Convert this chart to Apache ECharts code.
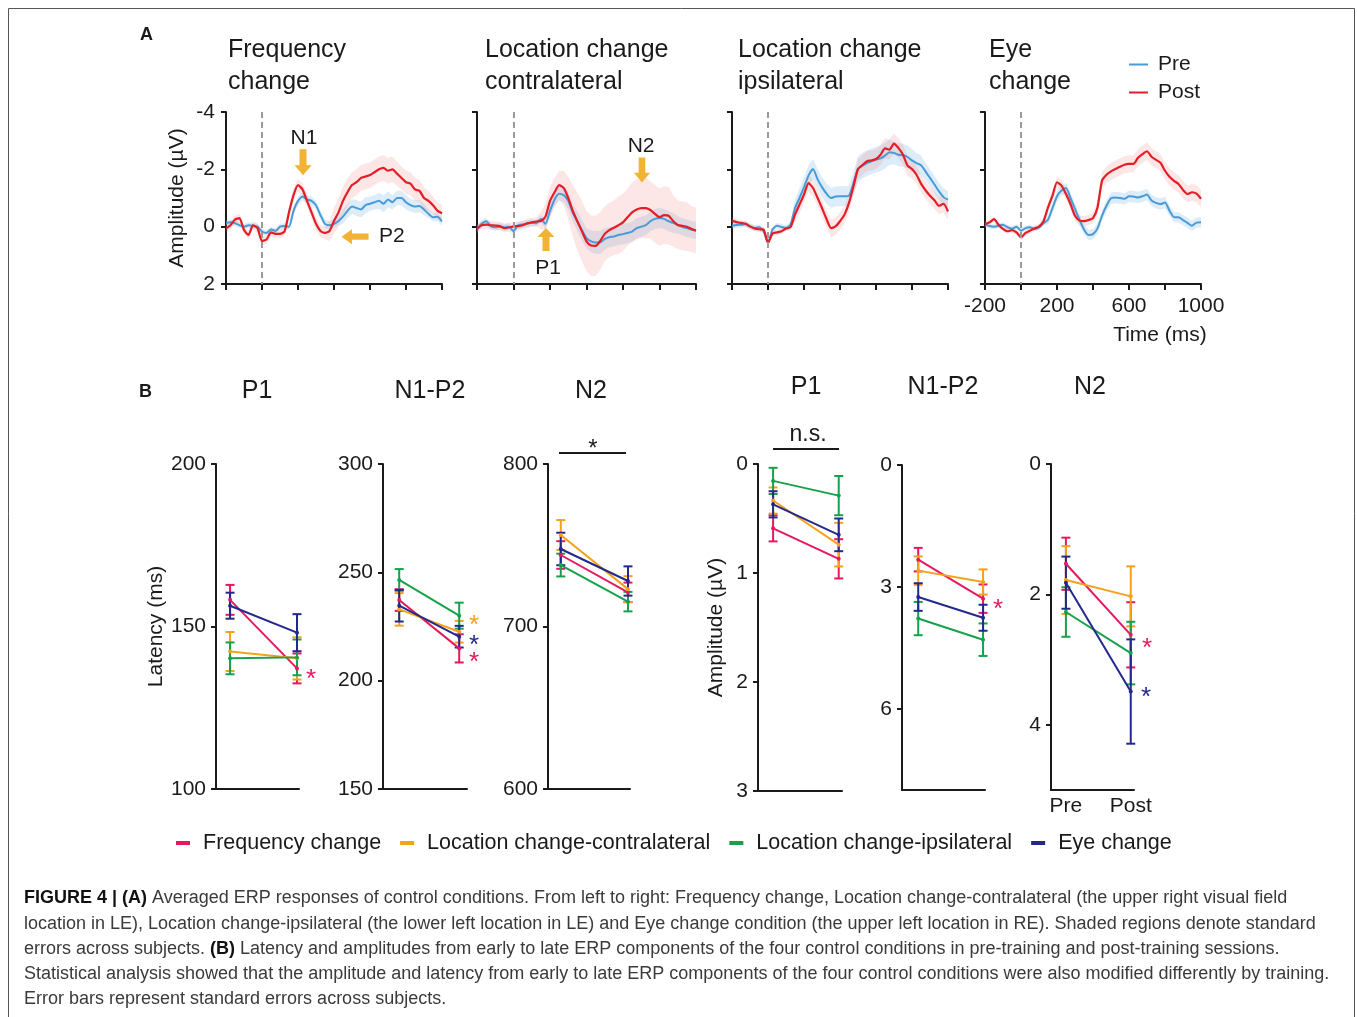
<!DOCTYPE html>
<html>
<head>
<meta charset="utf-8">
<script src="https://cdn.jsdelivr.net/npm/echarts@6/dist/echarts.min.js"></script>
<style>
html, body { margin: 0; padding: 0; background: #fff; }
#main { width: 1357px; height: 1017px; }
</style>
</head>
<body>
<div id="main"></div>
<script>
// ---------- panel A: averaged ERP (uV, negative up) ----------
const times = [-200, -175, -150, -125, -100, -75, -50, -25, 0, 25, 50, 75, 100, 125, 150, 175, 200, 225, 250, 275, 300, 325, 350, 375, 400, 425, 450, 475, 500, 525, 550, 575, 600, 625, 650, 675, 700, 725, 750, 775, 800, 825, 850, 875, 900, 925, 950, 975, 1000]
const timeTicks = [-200, 0, 200, 400, 600, 800, 1000]
const timeTickLabels = [-200, 200, 600, 1000]
const ampTicksA = [-4, -2, 0, 2]

const freqPre = [-0.14, -0.15, -0.12, -0.05, 0.0, -0.05, -0.03, 0.0, 0.17, 0.22, 0.1, 0.15, 0.0, -0.02, 0.0, -0.55, -0.9, -1.05, -0.95, -0.9, -0.75, -0.4, -0.1, -0.05, -0.1, -0.2, -0.35, -0.55, -0.7, -0.65, -0.6, -0.75, -0.8, -0.85, -0.9, -0.8, -0.95, -0.85, -1.0, -1.0, -0.85, -0.75, -0.7, -0.72, -0.6, -0.45, -0.33, -0.35, -0.18]
const freqPost = [0.06, -0.05, -0.25, -0.3, 0.12, 0.29, -0.05, 0.05, 0.5, 0.45, 0.2, 0.25, 0.25, 0.17, -0.5, -1.1, -1.45, -1.3, -0.9, -0.5, -0.1, 0.15, 0.22, 0.15, -0.2, -0.5, -0.9, -1.2, -1.45, -1.55, -1.7, -1.75, -1.8, -1.9, -2.0, -2.05, -1.95, -2.0, -1.85, -1.7, -1.55, -1.5, -1.3, -1.25, -1.0, -0.9, -0.75, -0.55, -0.47]
const freqPreSe = [0.1, 0.1, 0.1, 0.1, 0.1, 0.1, 0.1, 0.1, 0.1, 0.1, 0.1, 0.1, 0.1, 0.1, 0.1, 0.15, 0.15, 0.15, 0.15, 0.15, 0.15, 0.15, 0.15, 0.15, 0.15, 0.15, 0.25, 0.25, 0.25, 0.28, 0.28, 0.28, 0.25, 0.25, 0.28, 0.3, 0.28, 0.25, 0.25, 0.25, 0.25, 0.22, 0.22, 0.22, 0.2, 0.15, 0.15, 0.15, 0.15]
const freqPostSe = [0.15, 0.15, 0.15, 0.15, 0.15, 0.15, 0.15, 0.15, 0.15, 0.15, 0.15, 0.15, 0.15, 0.15, 0.22, 0.22, 0.22, 0.22, 0.22, 0.22, 0.22, 0.22, 0.22, 0.35, 0.45, 0.5, 0.5, 0.5, 0.45, 0.45, 0.45, 0.45, 0.45, 0.45, 0.45, 0.45, 0.45, 0.45, 0.42, 0.4, 0.4, 0.4, 0.4, 0.38, 0.36, 0.35, 0.3, 0.3, 0.3]

const contraPre = [0.08, -0.1, -0.19, -0.02, 0.02, 0.0, 0.03, 0.0, 0.16, -0.05, -0.08, -0.1, -0.14, -0.12, -0.27, -0.1, -0.55, -0.95, -1.15, -1.1, -0.9, -0.48, -0.19, 0.13, 0.4, 0.51, 0.55, 0.55, 0.43, 0.37, 0.34, 0.29, 0.26, 0.22, 0.17, 0.05, 0.0, -0.05, -0.19, -0.27, -0.3, -0.27, -0.19, -0.13, -0.06, 0.01, 0.05, 0.1, 0.13]
const contraPost = [0.08, -0.05, -0.07, -0.05, -0.04, -0.02, 0.05, 0.03, -0.01, -0.02, -0.05, -0.12, -0.15, -0.18, -0.2, -0.35, -0.9, -1.2, -1.45, -1.35, -1.0, -0.55, -0.18, 0.16, 0.51, 0.66, 0.67, 0.5, 0.25, 0.12, 0.04, -0.05, -0.15, -0.33, -0.5, -0.6, -0.65, -0.65, -0.58, -0.45, -0.33, -0.4, -0.38, -0.2, -0.06, -0.03, 0.0, 0.08, 0.14]
const contraPreSe = [0.12, 0.12, 0.12, 0.12, 0.12, 0.12, 0.12, 0.12, 0.12, 0.12, 0.12, 0.12, 0.12, 0.12, 0.12, 0.2, 0.25, 0.25, 0.25, 0.25, 0.3, 0.3, 0.35, 0.35, 0.35, 0.38, 0.4, 0.4, 0.38, 0.35, 0.35, 0.35, 0.35, 0.35, 0.35, 0.35, 0.35, 0.35, 0.35, 0.35, 0.35, 0.35, 0.35, 0.35, 0.3, 0.3, 0.3, 0.3, 0.3]
const contraPostSe = [0.15, 0.15, 0.15, 0.15, 0.15, 0.15, 0.15, 0.15, 0.15, 0.15, 0.15, 0.15, 0.15, 0.15, 0.3, 0.45, 0.5, 0.5, 0.5, 0.6, 0.75, 0.9, 1.0, 1.05, 1.05, 1.05, 1.05, 1.0, 0.95, 0.95, 0.95, 1.0, 1.0, 1.0, 1.05, 1.05, 1.05, 1.05, 1.0, 1.0, 1.0, 1.0, 1.0, 0.9, 0.85, 0.85, 0.85, 0.8, 0.8]

const ipsiPre = [-0.03, -0.06, -0.07, -0.09, -0.01, 0.05, 0.02, 0.15, 0.57, 0.1, -0.03, 0.01, 0.05, -0.07, -0.65, -1.0, -1.38, -1.78, -2.01, -1.66, -1.38, -1.15, -1.0, -1.05, -1.06, -1.06, -1.08, -1.52, -2.01, -2.13, -2.22, -2.28, -2.34, -2.38, -2.48, -2.6, -2.57, -2.51, -2.49, -2.43, -2.31, -2.22, -2.14, -1.93, -1.7, -1.47, -1.23, -1.03, -0.94]
const ipsiPost = [-0.21, -0.16, -0.13, -0.1, -0.01, 0.06, 0.09, 0.1, 0.57, 0.24, 0.2, 0.16, 0.06, 0.02, -0.42, -0.77, -1.12, -1.52, -1.35, -1.01, -0.65, -0.27, 0.05, -0.01, -0.19, -0.42, -0.83, -1.41, -2.01, -2.15, -2.28, -2.31, -2.36, -2.51, -2.73, -2.69, -2.9, -2.74, -2.51, -2.13, -2.01, -1.81, -1.5, -1.27, -1.08, -0.92, -0.73, -0.8, -0.53]
const ipsiPreSe = [0.1, 0.1, 0.1, 0.1, 0.1, 0.1, 0.1, 0.1, 0.1, 0.1, 0.1, 0.1, 0.1, 0.1, 0.3, 0.35, 0.35, 0.35, 0.35, 0.35, 0.35, 0.35, 0.35, 0.35, 0.35, 0.35, 0.35, 0.4, 0.45, 0.45, 0.45, 0.45, 0.45, 0.45, 0.45, 0.45, 0.4, 0.4, 0.4, 0.4, 0.4, 0.35, 0.35, 0.3, 0.3, 0.3, 0.3, 0.3, 0.3]
const ipsiPostSe = [0.1, 0.1, 0.1, 0.1, 0.1, 0.1, 0.1, 0.1, 0.1, 0.1, 0.1, 0.1, 0.1, 0.1, 0.25, 0.3, 0.3, 0.3, 0.3, 0.3, 0.3, 0.3, 0.3, 0.3, 0.3, 0.3, 0.3, 0.3, 0.35, 0.35, 0.35, 0.35, 0.35, 0.35, 0.35, 0.35, 0.35, 0.35, 0.35, 0.35, 0.35, 0.3, 0.3, 0.3, 0.3, 0.3, 0.3, 0.3, 0.3]

const eyePre = [-0.07, -0.02, 0.0, -0.03, -0.07, 0.02, 0.07, 0.0, 0.14, 0.05, 0.02, 0.08, 0.03, -0.12, -0.24, -0.65, -1.06, -1.26, -1.35, -1.0, -0.62, -0.24, 0.1, 0.29, 0.26, 0.06, -0.38, -0.73, -0.99, -1.02, -1.0, -0.97, -1.06, -1.05, -1.02, -1.06, -1.12, -0.91, -0.83, -0.79, -0.84, -0.56, -0.33, -0.33, -0.23, -0.13, -0.03, -0.14, -0.15]
const eyePost = [-0.09, -0.15, -0.26, -0.07, 0.08, 0.16, 0.12, 0.2, 0.37, 0.22, 0.14, 0.06, 0.0, -0.19, -0.67, -1.08, -1.55, -1.43, -1.14, -0.79, -0.38, -0.21, -0.19, -0.23, -0.3, -0.67, -1.6, -1.81, -1.93, -2.01, -2.09, -2.16, -2.19, -2.19, -2.4, -2.53, -2.63, -2.44, -2.33, -2.23, -1.95, -1.74, -1.6, -1.49, -1.28, -1.14, -1.2, -1.15, -0.97]
const eyePreSe = [0.08, 0.08, 0.08, 0.08, 0.08, 0.08, 0.08, 0.08, 0.08, 0.08, 0.08, 0.08, 0.08, 0.08, 0.15, 0.18, 0.18, 0.18, 0.18, 0.18, 0.18, 0.18, 0.18, 0.18, 0.18, 0.18, 0.18, 0.2, 0.2, 0.2, 0.2, 0.2, 0.2, 0.2, 0.2, 0.2, 0.2, 0.2, 0.2, 0.2, 0.2, 0.18, 0.18, 0.18, 0.18, 0.18, 0.18, 0.18, 0.18]
const eyePostSe = [0.1, 0.1, 0.1, 0.1, 0.1, 0.1, 0.1, 0.1, 0.1, 0.1, 0.1, 0.1, 0.1, 0.1, 0.18, 0.18, 0.2, 0.2, 0.18, 0.18, 0.18, 0.18, 0.18, 0.18, 0.18, 0.25, 0.3, 0.3, 0.3, 0.3, 0.3, 0.3, 0.3, 0.3, 0.3, 0.3, 0.3, 0.3, 0.3, 0.3, 0.3, 0.3, 0.3, 0.3, 0.3, 0.3, 0.3, 0.3, 0.3]

// ---------- panel B: pre / post per condition ----------
const sessions = ['Pre', 'Post']
const conditions = ['Frequency change', 'Location change-contralateral', 'Location change-ipsilateral', 'Eye change']

const latP1Mean = [[158.2, 137.1], [142.3, 140.2], [140.2, 140.5], [156.4, 148.1]]
const latP1Se = [[4.6, 4.6], [6.0, 6.5], [4.9, 5.5], [4.0, 5.7]]
const latN1P2Mean = [[237.2, 214.9], [232.9, 222.6], [246.5, 230.0], [234.6, 220.3]]
const latN1P2Se = [[5.0, 6.5], [7.5, 5.0], [5.0, 6.0], [7.3, 5.0]]
const latN2Mean = [[744.0, 721.0], [756.3, 723.0], [737.8, 715.3], [747.7, 728.0]]
const latN2Se = [[8.5, 6.0], [9.2, 8.0], [7.0, 6.0], [10.0, 9.0]]
const ampP1Mean = [[0.59, 0.87], [0.335, 0.74], [0.155, 0.29], [0.37, 0.65]]
const ampP1Se = [[0.12, 0.18], [0.12, 0.2], [0.12, 0.18], [0.12, 0.15]]
const ampN1P2Mean = [[2.33, 3.29], [2.6, 2.88], [3.78, 4.3], [3.25, 3.76]]
const ampN1P2Se = [[0.29, 0.35], [0.35, 0.31], [0.41, 0.4], [0.34, 0.32]]
const ampN2Mean = [[1.53, 2.62], [1.78, 2.03], [2.27, 2.9], [1.82, 3.49]]
const ampN2Se = [[0.4, 0.5], [0.52, 0.46], [0.38, 0.48], [0.4, 0.8]]

const latP1Ticks = [100, 150, 200]
const latN1P2Ticks = [150, 200, 250, 300]
const latN2Ticks = [600, 700, 800]
const ampP1Ticks = [0, 1, 2, 3]
const ampN1P2Ticks = [0, 3, 6]
const ampN2Ticks = [0, 2, 4]

// ---------- layout / style ----------
const FONT = '"Liberation Sans", Arial, Helvetica, sans-serif'
const INK = '#1a1a1a'
const preColor = '#4a9bd5'
const postColor = '#e31e26'
const preBand = 'rgba(140, 195, 235, 0.3)'
const postBand = 'rgba(240, 130, 130, 0.2)'
const arrowColor = '#f2b233'
const condColors = ['#e5195b', '#f6a11a', '#16a14b', '#23298c']

const gridA = [
  { left: 226, top: 112, width: 216, height: 172 },
  { left: 477, top: 112, width: 219, height: 172 },
  { left: 732, top: 112, width: 216, height: 172 },
  { left: 985, top: 112, width: 216, height: 172 }
]
const gridB = [
  { left: 216, top: 464, width: 83, height: 325, xmin: -0.21, xmax: 1.03 },
  { left: 383, top: 464, width: 84, height: 325, xmin: -0.27, xmax: 1.13 },
  { left: 548, top: 464, width: 82, height: 325, xmin: -0.19, xmax: 1.03 },
  { left: 758, top: 464, width: 84, height: 327, xmin: -0.23, xmax: 1.05 },
  { left: 902, top: 465, width: 83, height: 325, xmin: -0.25, xmax: 1.03 },
  { left: 1051, top: 464, width: 83, height: 326, xmin: -0.23, xmax: 1.05 }
]

const panelsA = [
  { pre: freqPre, post: freqPost, preSe: freqPreSe, postSe: freqPostSe },
  { pre: contraPre, post: contraPost, preSe: contraPreSe, postSe: contraPostSe },
  { pre: ipsiPre, post: ipsiPost, preSe: ipsiPreSe, postSe: ipsiPostSe },
  { pre: eyePre, post: eyePost, preSe: eyePreSe, postSe: eyePostSe }
]
const panelsB = [
  { mean: latP1Mean, se: latP1Se, ticks: latP1Ticks, min: 100, max: 200, inverse: false },
  { mean: latN1P2Mean, se: latN1P2Se, ticks: latN1P2Ticks, min: 150, max: 300, inverse: false },
  { mean: latN2Mean, se: latN2Se, ticks: latN2Ticks, min: 600, max: 800, inverse: false },
  { mean: ampP1Mean, se: ampP1Se, ticks: ampP1Ticks, min: 0, max: 3, inverse: true },
  { mean: ampN1P2Mean, se: ampN1P2Se, ticks: ampN1P2Ticks, min: 0, max: 8, inverse: true },
  { mean: ampN2Mean, se: ampN2Se, ticks: ampN2Ticks, min: 0, max: 5, inverse: true }
]

const arrowDown = 'path://M5,0 L12,0 L12,16 L17,16 L8.5,26 L0,16 L5,16 Z'
const arrowUp = 'path://M8.5,0 L17,10 L12,10 L12,26 L5,26 L5,10 L0,10 Z'
const arrowLeft = 'path://M0,8.5 L10,0 L10,5 L26,5 L26,12 L10,12 L10,17 Z'

const axisLineStyle = { color: INK, width: 2 }

/** 箭头和峰值名称 */
function arrowMark(coord, symbol, size) {
  return { coord, symbol, symbolSize: size, itemStyle: { color: arrowColor }, label: { show: false } }
}
function peakLabel(coord, text) {
  return {
    coord,
    symbol: 'rect',
    symbolSize: 1,
    itemStyle: { color: 'rgba(0,0,0,0)' },
    label: { show: true, position: 'inside', formatter: text, color: INK, fontSize: 21, fontFamily: FONT }
  }
}
const peakMarks = [
  [arrowMark([228, -2.25], arrowDown, [17, 26]), peakLabel([233, -3.1], 'N1'),
    arrowMark([517, 0.35], arrowLeft, [27, 15]), peakLabel([722, 0.32], 'P2')],
  [arrowMark([178, 0.45], arrowUp, [17, 23]), peakLabel([189, 1.45], 'P1'),
    arrowMark([704, -1.98], arrowDown, [16, 25]), peakLabel([699, -2.82], 'N2')],
  [],
  []
]

/** 误差线 */
function renderErr(params, api) {
  const x = api.value(0)
  const lo = api.coord([x, api.value(1)])
  const hi = api.coord([x, api.value(2)])
  const cap = 4.5
  const style = { stroke: api.visual('color'), lineWidth: 2 }
  return {
    type: 'group',
    children: [
      { type: 'line', shape: { x1: lo[0], y1: lo[1], x2: hi[0], y2: hi[1] }, style },
      { type: 'line', shape: { x1: lo[0] - cap, y1: lo[1], x2: lo[0] + cap, y2: lo[1] }, style },
      { type: 'line', shape: { x1: hi[0] - cap, y1: hi[1], x2: hi[0] + cap, y2: hi[1] }, style }
    ]
  }
}

/** 标准误阴影：整条带画成一个多边形 */
function bandSeries(gi, mean, se, color) {
  const pts = times.map((t, i) => [t, mean[i] - se[i], mean[i] + se[i]])
  return {
    type: 'custom', xAxisIndex: gi, yAxisIndex: gi, silent: true, z: 1,
    data: pts, encode: { x: 0, y: [1, 2] },
    renderItem(params, api) {
      if (params.dataIndex !== 0) return null
      const upper = pts.map(p => api.coord([p[0], p[2]]))
      const lower = pts.map(p => api.coord([p[0], p[1]])).reverse()
      return { type: 'polygon', shape: { points: upper.concat(lower) }, style: { fill: color } }
    }
  }
}

const xAxis = []
const yAxis = []
const series = []

gridA.forEach((g, gi) => {
  xAxis.push({
    gridIndex: gi, type: 'value', min: -200, max: 1000,
    axisLine: { show: true, onZero: false, lineStyle: axisLineStyle },
    axisTick: { show: true, length: 6, customValues: timeTicks, lineStyle: axisLineStyle },
    axisLabel: {
      show: gi === 3, customValues: timeTickLabels, formatter: v => String(v),
      fontSize: 21, margin: 12, color: INK, fontFamily: FONT
    },
    splitLine: { show: false }
  })
  yAxis.push({
    gridIndex: gi, type: 'value', inverse: true, min: -4, max: 2,
    axisLine: { show: true, onZero: false, lineStyle: axisLineStyle },
    axisTick: { show: true, length: 5, customValues: ampTicksA, lineStyle: axisLineStyle },
    axisLabel: { show: gi === 0, customValues: ampTicksA, fontSize: 21, margin: 11, color: INK, fontFamily: FONT },
    splitLine: { show: false },
    name: gi === 0 ? 'Amplitude (µV)' : '',
    nameLocation: 'middle', nameGap: 38, nameRotate: 90,
    nameTextStyle: { fontSize: 21, color: INK, fontFamily: FONT }
  })
  const p = panelsA[gi]
  series.push(bandSeries(gi, p.pre, p.preSe, preBand))
  series.push(bandSeries(gi, p.post, p.postSe, postBand))
  series.push({
    name: 'Pre', type: 'line', xAxisIndex: gi, yAxisIndex: gi, smooth: 0.2,
    data: times.map((t, i) => [t, p.pre[i]]),
    symbol: 'none', color: preColor, lineStyle: { width: 2, color: preColor }, z: 3,
    markLine: {
      silent: true, symbol: ['none', 'none'], label: { show: false },
      lineStyle: { type: [6, 4], color: '#9b9b9b', width: 2 },
      data: [{ xAxis: 0 }]
    }
  })
  series.push({
    name: 'Post', type: 'line', xAxisIndex: gi, yAxisIndex: gi, smooth: 0.2,
    data: times.map((t, i) => [t, p.post[i]]),
    symbol: 'none', color: postColor, lineStyle: { width: 2.2, color: postColor }, z: 4,
    markPoint: { silent: true, data: peakMarks[gi] }
  })
})

gridB.forEach((g, bi) => {
  const gi = bi + 4
  const p = panelsB[bi]
  xAxis.push({
    gridIndex: gi, type: 'value', min: g.xmin, max: g.xmax,
    axisLine: { show: true, onZero: false, lineStyle: axisLineStyle },
    axisTick: { show: false },
    axisLabel: {
      show: bi === 5, customValues: [0, 1], formatter: v => sessions[v],
      fontSize: 21, margin: 6, color: INK, fontFamily: FONT
    },
    splitLine: { show: false }
  })
  yAxis.push({
    gridIndex: gi, type: 'value', min: p.min, max: p.max, inverse: p.inverse,
    axisLine: { show: true, onZero: false, lineStyle: axisLineStyle },
    axisTick: { show: true, length: 5, customValues: p.ticks, lineStyle: axisLineStyle },
    axisLabel: { customValues: p.ticks, fontSize: 21, margin: 10, color: INK, fontFamily: FONT },
    splitLine: { show: false },
    name: bi === 0 ? 'Latency (ms)' : (bi === 3 ? 'Amplitude (µV)' : ''),
    nameLocation: 'middle', nameGap: bi === 0 ? 48 : 31, nameRotate: 90,
    nameTextStyle: { fontSize: 21, color: INK, fontFamily: FONT }
  })
  conditions.forEach((c, ci) => {
    const m = p.mean[ci]
    const s = p.se[ci]
    series.push({
      name: c + ' err', type: 'custom', xAxisIndex: gi, yAxisIndex: gi,
      renderItem: renderErr, silent: true, z: 2,
      itemStyle: { color: condColors[ci] },
      encode: { x: 0, y: [1, 2] },
      data: [[0, m[0] - s[0], m[0] + s[0]], [1, m[1] - s[1], m[1] + s[1]]]
    })
    series.push({
      name: c, type: 'line', xAxisIndex: gi, yAxisIndex: gi,
      data: [[0, m[0]], [1, m[1]]],
      symbol: 'circle', symbolSize: 4, color: condColors[ci],
      lineStyle: { width: 2, color: condColors[ci] }, itemStyle: { color: condColors[ci] }, z: 3
    })
  })
})

// ---------- texts ----------
function txt(s, x, y, size, extra) {
  return {
    type: 'text', silent: true,
    style: Object.assign({
      text: s, x, y, fontSize: size, fontFamily: FONT, fill: INK,
      align: 'left', verticalAlign: 'middle'
    }, extra || {})
  }
}
function star(x, y, color) {
  return txt('*', x, y + 6, 26, { fill: color, align: 'center' })
}

const captionLines = [
  '{b|FIGURE 4 | (A)} Averaged ERP responses of control conditions. From left to right: Frequency change, Location change-contralateral (the upper right visual field',
  'location in LE), Location change-ipsilateral (the lower left location in LE) and Eye change condition (the upper left location in RE). Shaded regions denote standard',
  'errors across subjects. {b|(B)} Latency and amplitudes from early to late ERP components of the four control conditions in pre-training and post-training sessions.',
  'Statistical analysis showed that the amplitude and latency from early to late ERP components of the four control conditions were also modified differently by training.',
  'Error bars represent standard errors across subjects.'
]
const captionY = [898, 924, 949, 974, 999]

const graphic = [
  { type: 'rect', silent: true, shape: { x: 8.5, y: 8.5, width: 1346, height: 1030 }, style: { fill: 'none', stroke: '#555', lineWidth: 1 } },
  txt('A', 140, 35, 18, { fontWeight: 'bold' }),
  txt('B', 139, 392, 18, { fontWeight: 'bold' }),
  txt('Frequency', 228, 50, 25), txt('change', 228, 82, 25),
  txt('Location change', 485, 50, 25), txt('contralateral', 485, 82, 25),
  txt('Location change', 738, 50, 25), txt('ipsilateral', 738, 82, 25),
  txt('Eye', 989, 50, 25), txt('change', 989, 82, 25),
  txt('Time (ms)', 1160, 335, 21, { align: 'center' }),
  txt('P1', 257, 391, 25, { align: 'center' }),
  txt('N1-P2', 430, 391, 25, { align: 'center' }),
  txt('N2', 591, 391, 25, { align: 'center' }),
  txt('P1', 806, 387, 25, { align: 'center' }),
  txt('N1-P2', 943, 387, 25, { align: 'center' }),
  txt('N2', 1090, 387, 25, { align: 'center' }),
  { type: 'line', silent: true, shape: { x1: 559, y1: 453, x2: 626, y2: 453 }, style: { stroke: INK, lineWidth: 2 } },
  txt('*', 593, 449, 24, { align: 'center' }),
  { type: 'line', silent: true, shape: { x1: 773, y1: 449, x2: 839, y2: 449 }, style: { stroke: INK, lineWidth: 2 } },
  txt('n.s.', 808, 435, 23, { align: 'center' }),
  star(311, 674, condColors[0]),
  star(474, 620, condColors[1]),
  star(474, 640, condColors[3]),
  star(474, 657, condColors[0]),
  star(998, 604, condColors[0]),
  star(1147, 643, condColors[0]),
  star(1146, 692, condColors[3])
]
captionLines.forEach((line, i) => {
  graphic.push(txt(line, 24, captionY[i], 18, {
    fill: '#3a3a3a',
    rich: { b: { fontWeight: 'bold', fill: '#111', fontSize: 18, fontFamily: FONT } }
  }))
})

const chart = echarts.init(document.getElementById('main'), null, { renderer: 'canvas' })
chart.setOption({
  animation: false,
  backgroundColor: '#fff',
  textStyle: { fontFamily: FONT },
  legend: [
    {
      data: ['Pre', 'Post'], orient: 'vertical', left: 1124, top: 49,
      icon: 'rect', itemWidth: 19, itemHeight: 2, itemGap: 7,
      textStyle: { fontSize: 21, color: INK, fontFamily: FONT, padding: [0, 0, 0, 5] }
    },
    {
      data: conditions, orient: 'horizontal', left: 171, top: 827,
      icon: 'rect', itemWidth: 14, itemHeight: 4, itemGap: 19,
      textStyle: { fontSize: 21.5, color: INK, fontFamily: FONT, padding: [0, 0, 0, 8] }
    }
  ],
  grid: gridA.concat(gridB).map(g => ({ left: g.left, top: g.top, width: g.width, height: g.height })),
  xAxis,
  yAxis,
  series,
  graphic
})
</script>
</body>
</html>
